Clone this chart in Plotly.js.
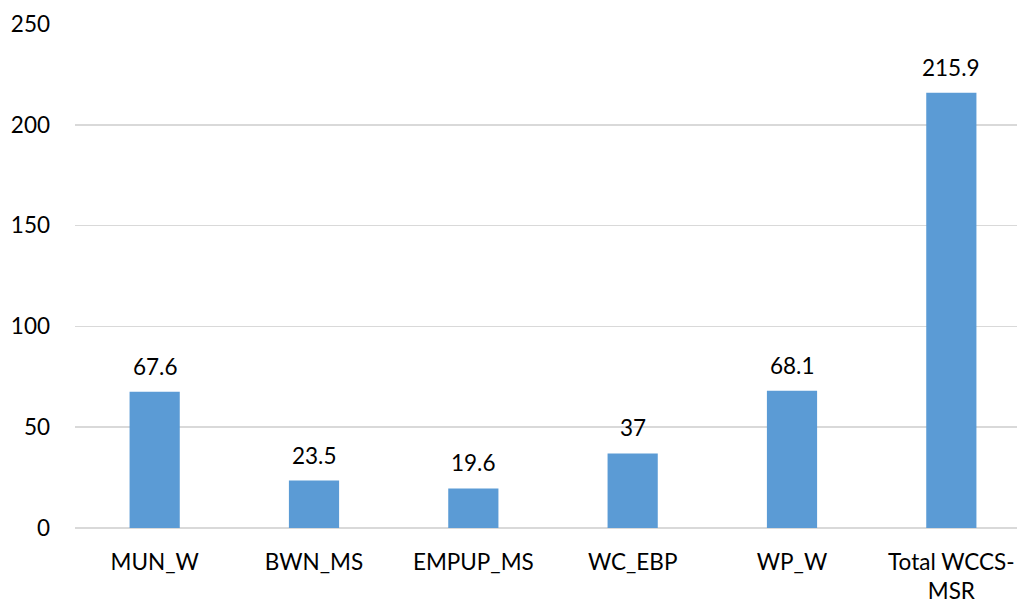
<!DOCTYPE html>
<html><head><meta charset="utf-8">
<script src="https://cdn.plot.ly/plotly-3.0.1.min.js"></script>
<style>html,body{margin:0;padding:0;overflow:hidden;background:#fff;}</style>
</head><body>
<div id="chart" style="width:1031px;height:603px;"></div>
<script>
const categories = ["MUN_W", "BWN_MS", "EMPUP_MS", "WC_EBP", "WP_W", "Total WCCS-<br>MSR"];
const values = [67.6, 23.5, 19.6, 37, 68.1, 215.9];
const valueLabels = ["67.6", "23.5", "19.6", "37", "68.1", "215.9"];
const yTicks = [0, 50, 100, 150, 200, 250];

const font = {family: "Lato, 'Open Sans', sans-serif", size: 22.5, color: "#000"};

const trace = {
  type: "bar", x: categories, y: values,
  marker: {color: "#5B9BD5"},
  hoverinfo: "none"
};
const annotations = categories.map((c, i) => ({
  x: c, y: values[i], text: valueLabels[i], showarrow: false,
  yanchor: "bottom", yshift: 10, font: font
}));
const layout = {
  width: 1031, height: 603,
  margin: {l: 75, r: 0, t: 24, b: 75},
  paper_bgcolor: "#fff", plot_bgcolor: "#fff",
  bargap: 0.685,
  showlegend: false,
  font: font,
  xaxis: {type: "category", showgrid: false, zeroline: false, showline: false,
          ticks: "", tickfont: font, ticklabelstandoff: 18},
  yaxis: {range: [0, 250], tickvals: yTicks, ticktext: yTicks.map(String),
          showgrid: true, gridcolor: "#D9D9D9", gridwidth: 1.5,
          zeroline: true, zerolinecolor: "#D9D9D9", zerolinewidth: 1.5,
          showline: false, ticks: "", tickfont: font, ticklabelstandoff: 24},
  annotations: annotations
};
Plotly.newPlot("chart", [trace], layout, {staticPlot: true, displayModeBar: false});
</script>
</body></html>
